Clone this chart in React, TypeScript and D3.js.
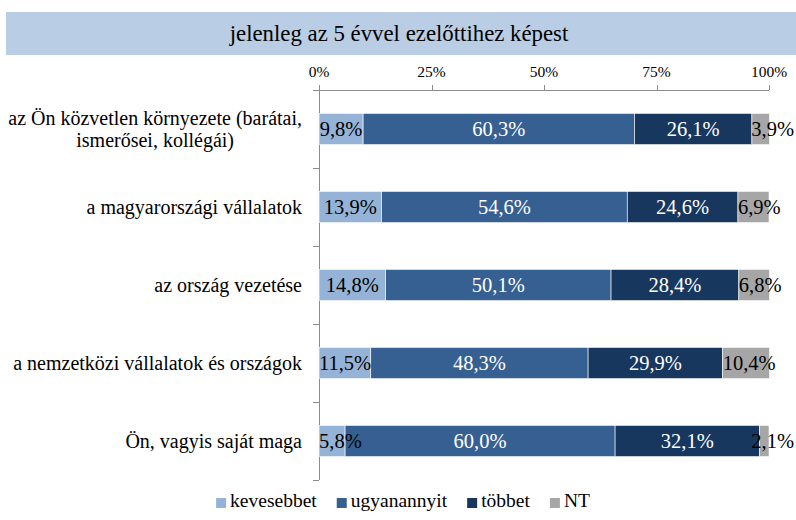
import React, { useEffect, useRef } from "react";
import * as d3 from "d3";

const categories: string[][] = [
  ["az Ön közvetlen környezete (barátai,", "ismerősei, kollégái)"],
  ["a magyarországi vállalatok"],
  ["az ország vezetése"],
  ["a nemzetközi vállalatok és országok"],
  ["Ön, vagyis saját maga"],
];
const seriesNames = ["kevesebbet", "ugyanannyit", "többet", "NT"];
const kevesebbet = [9.8, 13.9, 14.8, 11.5, 5.8];
const ugyanannyit = [60.3, 54.6, 50.1, 48.3, 60.0];
const tobbet = [26.1, 24.6, 28.4, 29.9, 32.1];
const nt = [3.9, 6.9, 6.8, 10.4, 2.1];
const tickValues = [0, 25, 50, 75, 100];
const title = "jelenleg az 5 évvel ezelőttihez képest";

const colors = ["#95B3D7", "#376092", "#17375E", "#A6A6A6"];
const labelColors = ["#000", "#fff", "#fff", "#000"];
const FONT = "Liberation Serif";

export default function App() {
  const ref = useRef<SVGSVGElement | null>(null);

  useEffect(() => {
    const svg = d3.select(ref.current);
    svg.selectAll("*").remove();
    const W = 796, H = 520;
    const x0 = 319, x1 = 769, yTop = 90, yBot = 480;
    const x = d3.scaleLinear().domain([0, 100]).range([x0, x1]);
    const y = d3.scaleBand<number>().domain(d3.range(categories.length)).range([yTop, yBot]).paddingInner(0.6).paddingOuter(0.3);
    const band = (yBot - yTop) / categories.length;

    svg.append("rect").attr("width", W).attr("height", H).attr("fill", "#fff");

    // title band
    svg.append("rect").attr("x", 6).attr("y", 12).attr("width", W - 6).attr("height", 43).attr("fill", "#B9CDE5");
    svg.append("text").attr("x", 399).attr("y", 40.5).attr("text-anchor", "middle")
      .attr("font-family", FONT).attr("font-size", 22.8).attr("fill", "#000").text(title);

    const axisColor = "#8C8C8C";
    // x axis
    svg.append("line").attr("x1", x0).attr("x2", x1).attr("y1", yTop + 0.5).attr("y2", yTop + 0.5)
      .attr("stroke", axisColor).attr("stroke-width", 1);
    tickValues.forEach((t) => {
      const tx = Math.round(x(t)) + 0.5;
      svg.append("line").attr("x1", tx).attr("x2", tx).attr("y1", yTop - 5).attr("y2", yTop).attr("stroke", axisColor);
      svg.append("text").attr("x", x(t)).attr("y", 76.5).attr("text-anchor", "middle")
        .attr("font-family", FONT).attr("font-size", 15.5).attr("fill", "#000").text(`${t}%`);
    });
    // y axis
    svg.append("line").attr("x1", x0 + 0.5).attr("x2", x0 + 0.5).attr("y1", yTop - 5).attr("y2", yBot)
      .attr("stroke", axisColor);
    for (let i = 0; i <= categories.length; i++) {
      const ty = Math.round(yTop + i * band) + 0.5;
      svg.append("line").attr("x1", x0 - 6).attr("x2", x0).attr("y1", ty).attr("y2", ty).attr("stroke", axisColor);
    }

    // category labels
    categories.forEach((lines, i) => {
      const cy = (y(i) as number) + y.bandwidth() / 2;
      const t = svg.append("text").attr("font-family", FONT).attr("font-size", 20).attr("fill", "#000");
      if (lines.length === 1) {
        t.attr("x", 302).attr("y", cy).attr("dy", "0.33em").attr("text-anchor", "end").text(lines[0]);
      } else {
        const tmp = t.append("tspan").text(lines[0]);
        const w0 = (tmp.node() as SVGTSpanElement).getComputedTextLength();
        tmp.remove();
        const cx = 302 - w0 / 2;
        lines.forEach((ln, j) => {
          t.append("tspan").attr("x", cx).attr("text-anchor", "middle")
            .attr("y", cy + (j - (lines.length - 1) / 2) * 22).attr("dy", "0.33em").text(ln);
        });
      }
    });

    // bars
    const seriesData = [kevesebbet, ugyanannyit, tobbet, nt];
    const rows = categories.map((_, i) => {
      const o: any = { i };
      seriesNames.forEach((s, k) => (o[s] = seriesData[k][i]));
      return o;
    });
    const stack = d3.stack<any>().keys(seriesNames)(rows);
    stack.forEach((layer, k) => {
      layer.forEach((d, i) => {
        svg.append("rect")
          .attr("x", x(d[0])).attr("y", y(i) as number)
          .attr("width", x(d[1]) - x(d[0])).attr("height", y.bandwidth())
          .attr("fill", colors[k]).attr("stroke", "#fff").attr("stroke-width", 0.6);
      });
    });
    // data labels
    stack.forEach((layer, k) => {
      layer.forEach((d, i) => {
        const v = seriesData[k][i];
        const label = v.toFixed(1).replace(".", ",") + "%";
        const s = x(d[0]), e = x(d[1]);
        const cy = (y(i) as number) + y.bandwidth() / 2;
        const t = svg.append("text").attr("font-family", FONT).attr("font-size", 20.5)
          .attr("fill", labelColors[k]).attr("y", cy).attr("dy", "0.35em").text(label);
        const w = (t.node() as SVGTextElement).getComputedTextLength();
        let left = (s + e) / 2 - w / 2;
        if (left < s) left = s;
        if (left + w > 794) left = 794 - w;
        t.attr("x", left);
      });
    });

    // legend
    const lg = svg.append("g");
    let cx = 0;
    seriesNames.forEach((name, k) => {
      lg.append("rect").attr("x", cx).attr("y", 498).attr("width", 10).attr("height", 10).attr("fill", colors[k]);
      const t = lg.append("text").attr("x", cx + 14).attr("y", 507).attr("font-family", FONT)
        .attr("font-size", 19.5).attr("fill", "#000").text(name);
      const w = (t.node() as SVGTextElement).getComputedTextLength();
      cx += 14 + w + (k < seriesNames.length - 1 ? 20 : 0);
    });
    const totalW = cx;
    lg.attr("transform", `translate(${403 - totalW / 2},0)`);
  }, []);

  return (
    <svg ref={ref} width={796} height={520} fontFamily={FONT} style={{ position: "absolute", left: 0, top: 0, display: "block" }} />
  );
}
